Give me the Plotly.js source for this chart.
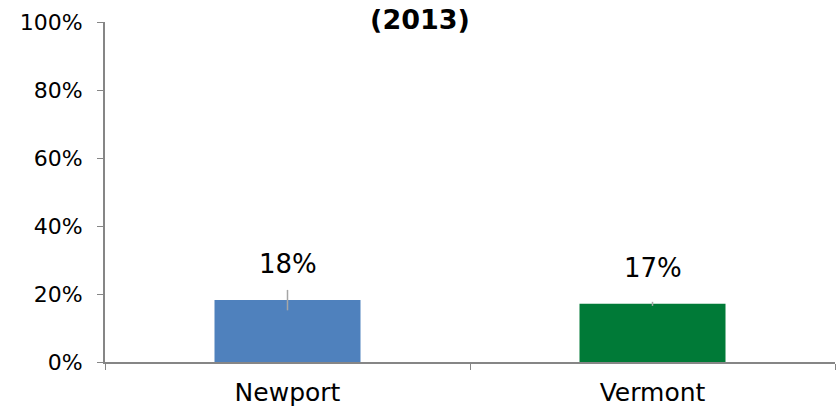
<!DOCTYPE html>
<html>
<head>
<meta charset="utf-8">
<script src="https://cdn.plot.ly/plotly-3.0.1.min.js"></script>
<style>html,body{margin:0;padding:0;background:#fff;}#chart{width:840px;height:409px;}</style>
</head>
<body>
<div id="chart"></div>
<script>
const categories = ["Newport", "Vermont"];
const values = [0.182, 0.171];
const errors = [0.030, 0.006];
const labels = ["18%", "17%"];
const colors = ["#4F81BD", "#007A37"];
const yTickVals = [0, 0.2, 0.4, 0.6, 0.8, 1.0];
const yTickText = ["0%", "20%", "40%", "60%", "80%", "100%"];
const titleText = "<b>(2013)</b>";

const FONT = "DejaVu Sans, sans-serif";

const trace = {
  type: "bar",
  x: categories,
  y: values,
  marker: {color: colors},
  width: 0.4,
  error_y: {type: "data", array: errors, visible: true, color: "#A6A6A6", thickness: 1.5, width: 0},
  hoverinfo: "none"
};

const annotations = categories.map((c, i) => ({
  x: c, y: values[i], xref: "x", yref: "y",
  text: labels[i], showarrow: false, yshift: 36,
  font: {family: FONT, size: 26, color: "#000"}
}));

const layout = {
  width: 840, height: 409,
  margin: {l: 105, r: 5, t: 22, b: 47},
  paper_bgcolor: "#fff", plot_bgcolor: "#fff",
  title: {text: titleText, font: {family: FONT, size: 27, color: "#000"},
          x: 0.5, xref: "container", xanchor: "center", y: 1 - 20/409, yref: "container", yanchor: "middle"},
  showlegend: false,
  xaxis: {
    showline: true, linecolor: "#868686", linewidth: 2,
    ticks: "outside", tickson: "boundaries", ticklen: 6, tickcolor: "#868686", tickwidth: 1,
    tickfont: {family: FONT, size: 25, color: "#000"},
    ticklabelstandoff: 7,
    showgrid: false, zeroline: false, fixedrange: true
  },
  yaxis: {
    range: [0, 1], showline: true, linecolor: "#868686", linewidth: 2,
    ticks: "outside", ticklen: 6, tickcolor: "#868686", tickwidth: 1,
    tickvals: yTickVals, ticktext: yTickText,
    tickfont: {family: FONT, size: 22, color: "#000"},
    ticklabelstandoff: 10,
    showgrid: false, zeroline: false, fixedrange: true
  },
  annotations: annotations
};

Plotly.newPlot("chart", [trace], layout, {displayModeBar: false, staticPlot: true});
</script>
</body>
</html>
